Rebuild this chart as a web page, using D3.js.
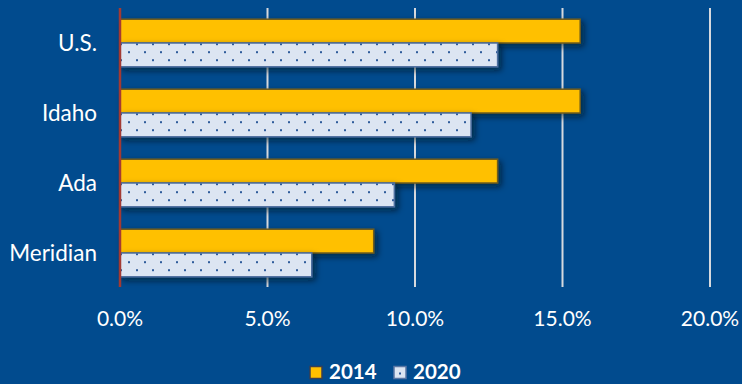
<!DOCTYPE html>
<html>
<head>
<meta charset="utf-8">
<script src="https://cdn.jsdelivr.net/npm/d3@7"></script>
<style>
  html, body { margin: 0; padding: 0; background: #014b8e; }
  svg { display: block; }
  text { font-family: Lato, "Open Sans", sans-serif; fill: #ffffff; }
</style>
</head>
<body>
<svg id="chart" width="742" height="384"></svg>
<script>
// Categories, series and tick labels
const categories = ["U.S.", "Idaho", "Ada", "Meridian"];
const seriesNames = ["2014", "2020"];
const values2014 = [0.156, 0.156, 0.128, 0.086];
const values2020 = [0.128, 0.119, 0.093, 0.065];
const tickValues = [0, 0.05, 0.10, 0.15, 0.20];

const W = 742, H = 384;
const plot = { left: 120, right: 710, top: 8, bottom: 288 };

const svg = d3.select("#chart");
svg.append("rect").attr("width", W).attr("height", H).attr("fill", "#014b8e");

const defs = svg.append("defs");
const shadow = defs.append("filter").attr("id", "shadow")
  .attr("x", "-10%").attr("y", "-40%").attr("width", "130%").attr("height", "200%");
shadow.append("feDropShadow")
  .attr("dx", 3).attr("dy", 3).attr("stdDeviation", 3)
  .attr("flood-color", "#000814").attr("flood-opacity", 0.6);

// Dotted fill used for the 2020 series
const pat = defs.append("pattern").attr("id", "dots")
  .attr("patternUnits", "userSpaceOnUse")
  .attr("x", 128).attr("y", 48).attr("width", 16).attr("height", 16);
pat.append("rect").attr("width", 16).attr("height", 16).attr("fill", "#dce5f2");
pat.append("rect").attr("x", 0).attr("y", 0).attr("width", 2).attr("height", 2).attr("fill", "#2f5b9b");
pat.append("rect").attr("x", 8).attr("y", 8).attr("width", 2).attr("height", 2).attr("fill", "#2f5b9b");

const x = d3.scaleLinear().domain([0, 0.20]).range([plot.left, plot.right]);
const y0 = d3.scaleBand().domain(categories).range([plot.top, plot.bottom])
  .paddingInner(0.32).paddingOuter(0.16);
const y1 = d3.scaleBand().domain(seriesNames).range([0, y0.bandwidth()]);

const styles = {
  "2014": { fill: "#ffc000", stroke: "#6e5b1c" },
  "2020": { fill: "url(#dots)", stroke: "#4e6f9f" }
};

// Vertical gridlines
svg.append("g").selectAll("line")
  .data(tickValues.filter(d => d > 0))
  .join("line")
  .attr("x1", d => x(d)).attr("x2", d => x(d))
  .attr("y1", plot.top).attr("y2", plot.bottom - 1)
  .attr("stroke", "#d6d9de").attr("stroke-width", 2);

// Bars
const rows = categories.map((c, i) => ({ cat: c, vals: { "2014": values2014[i], "2020": values2020[i] } }));
const groups = svg.append("g").selectAll("g")
  .data(rows).join("g")
  .attr("transform", d => `translate(0,${y0(d.cat)})`);
groups.selectAll("rect")
  .data(d => seriesNames.map(s => ({ s, v: d.vals[s] })))
  .join("rect")
  .attr("x", x(0))
  .attr("y", d => y1(d.s))
  .attr("width", d => x(d.v) - x(0))
  .attr("height", y1.bandwidth())
  .attr("fill", d => styles[d.s].fill)
  .attr("stroke", d => styles[d.s].stroke)
  .attr("stroke-width", 1.5)
  .attr("filter", "url(#shadow)");

// Zero line
svg.append("line")
  .attr("x1", x(0)).attr("x2", x(0))
  .attr("y1", plot.top).attr("y2", plot.bottom - 1)
  .attr("stroke", "#a33a33").attr("stroke-width", 2.5);

// Category axis labels
svg.append("g").selectAll("text")
  .data(categories).join("text")
  .attr("x", 97)
  .attr("y", d => y0(d) + y0.bandwidth() / 2)
  .attr("dy", "0.35em")
  .attr("text-anchor", "end")
  .attr("font-size", 22.5)
  .text(d => d);

// Value axis labels
const fmt = d3.format(".1%");
svg.append("g").selectAll("text")
  .data(tickValues).join("text")
  .attr("x", d => x(d))
  .attr("y", 326)
  .attr("text-anchor", "middle")
  .attr("font-size", 21)
  .text(d => fmt(d));

// Legend
const legend = svg.append("g");
const items = [
  { s: "2014", sx: 310, tx: 329 },
  { s: "2020", sx: 394, tx: 413 }
];
items.forEach(it => {
  legend.append("rect")
    .attr("x", it.sx).attr("y", 366.5).attr("width", 12).attr("height", 12)
    .attr("fill", it.s === "2014" ? "#ffc000" : "#dce5f2")
    .attr("stroke", it.s === "2014" ? "#3a3f52" : "#5a77a5").attr("stroke-width", 1.5);
  if (it.s === "2020") {
    legend.append("rect").attr("x", it.sx + 5).attr("y", 372.5).attr("width", 2).attr("height", 2).attr("fill", "#2f5b9b");
  }
  legend.append("text")
    .attr("x", it.tx).attr("y", 378.5)
    .attr("font-size", 20.5).attr("font-weight", "bold")
    .text(it.s);
});
</script>
</body>
</html>
